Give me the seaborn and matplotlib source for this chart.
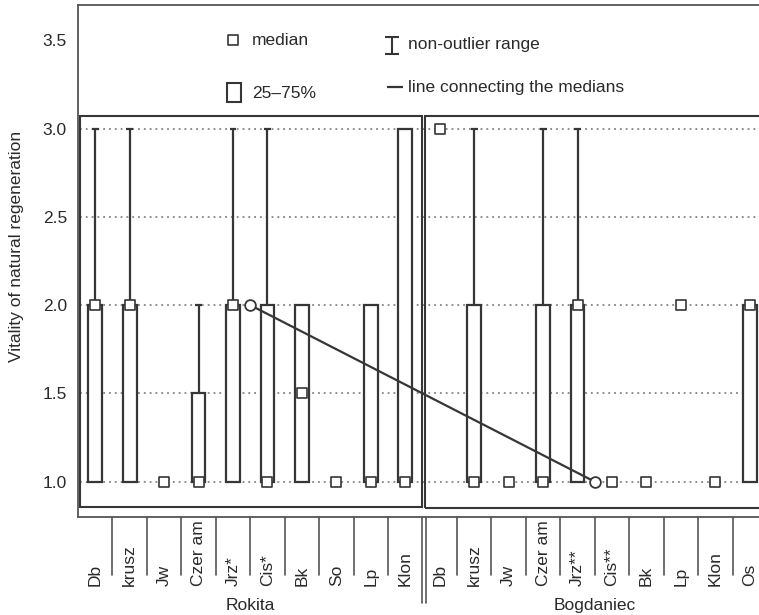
import matplotlib
matplotlib.use("Agg")
import matplotlib.pyplot as plt
from matplotlib.patches import Rectangle
import numpy as np
import pandas as pd
import seaborn as sns

# --- data -----------------------------------------------------------------
sites = ["Rokita"] * 10 + ["Bogdaniec"] * 10
species = ["Db", "krusz", "Jw", "Czer am", "Jrz*", "Cis*", "Bk", "So", "Lp", "Klon",
           "Db", "krusz", "Jw", "Czer am", "Jrz**", "Cis**", "Bk", "Lp", "Klon", "Os"]
medians = [2.0, 2.0, 1.0, 1.0, 2.0, 1.0, 1.5, 1.0, 1.0, 1.0,
           3.0, 1.0, 1.0, 1.0, 2.0, 1.0, 1.0, 2.0, 1.0, 2.0]
q25 = [1.0, 1.0, 1.0, 1.0, 1.0, 1.0, 1.0, 1.0, 1.0, 1.0,
       3.0, 1.0, 1.0, 1.0, 1.0, 1.0, 1.0, 2.0, 1.0, 1.0]
q75 = [2.0, 2.0, 1.0, 1.5, 2.0, 2.0, 2.0, 1.0, 2.0, 3.0,
       3.0, 2.0, 1.0, 2.0, 2.0, 1.0, 1.0, 2.0, 1.0, 2.0]
range_max = [3.0, 3.0, 1.0, 2.0, 3.0, 3.0, 2.0, 1.0, 2.0, 3.0,
             3.0, 3.0, 1.0, 3.0, 3.0, 1.0, 1.0, 2.0, 1.0, 2.0]
site_names = ["Rokita", "Bogdaniec"]
site_medians = [2.0, 1.0]
y_ticks = [1.0, 1.5, 2.0, 2.5, 3.0, 3.5]

df = pd.DataFrame({"site": sites, "species": species, "median": medians,
                   "q25": q25, "q75": q75, "max": range_max})
df["pos"] = np.arange(len(df))

# each site's median sits in the middle of its block of species
site_pos = [df.loc[df.site == s, "pos"].mean() for s in site_names]
site_df = pd.DataFrame({"pos": site_pos, "median": site_medians})

# --- style ----------------------------------------------------------------
sns.set_theme(style="white")
plt.rcParams["font.family"] = ["Liberation Sans", "DejaVu Sans"]
plt.rcParams["font.size"] = 12.5

INK = "#363636"
TXT = "#2a2a2a"

W, H = 759, 615
fig = plt.figure(figsize=(W / 100, H / 100), dpi=100)
ax = fig.add_axes([78 / W, (H - 517) / H, (767 - 78) / W, (517 - 5) / H])
ax.set_xlim(-0.5, 19.5)
ax.set_ylim(0.80, 3.70)

# dotted reference lines
ax.hlines([1.0, 1.5, 2.0, 2.5, 3.0], -0.45, 19.6, colors="#707070",
          linestyles=(0, (1.2, 2.6)), linewidth=1.1, zorder=1)

# site frames
ax.add_patch(Rectangle((-0.43, 0.858), 9.91, 2.216, fill=False,
                       edgecolor=INK, linewidth=1.5, zorder=2))
ax.add_patch(Rectangle((9.57, 0.853), 11.0, 2.216, fill=False,
                       edgecolor=INK, linewidth=1.5, zorder=2, clip_on=False))

# upper non-outlier range (whisker + cap)
wh = df[df["max"] > df["q75"]]
ax.vlines(wh["pos"], wh["q75"], wh["max"], colors=INK, linewidth=1.6, zorder=3)
ax.hlines(wh["max"], wh["pos"] - 0.1, wh["pos"] + 0.1, colors=INK,
          linewidth=1.6, zorder=3)

# 25-75% boxes
bx = df[df["q75"] > df["q25"]]
ax.bar(bx["pos"], bx["q75"] - bx["q25"], bottom=bx["q25"], width=0.4,
       color="white", edgecolor=INK, linewidth=1.6, zorder=3)

# line connecting site medians
sns.lineplot(data=site_df, x="pos", y="median", ax=ax, color=INK,
             linewidth=1.6, zorder=5, legend=False)
sns.scatterplot(data=site_df, x="pos", y="median", ax=ax, marker="o", s=60,
                color="white", edgecolor=INK, linewidth=1.3, zorder=6,
                legend=False)

# medians
sns.scatterplot(data=df, x="pos", y="median", ax=ax, marker="s", s=48,
                color="white", edgecolor=INK, linewidth=1.2, zorder=6,
                legend=False)

# --- key ------------------------------------------------------------------
ax.scatter([4.0], [3.5], marker="s", s=52, color="white", edgecolor=INK,
           linewidth=1.2, zorder=6)
ax.text(4.55, 3.5, "median", va="center", ha="left", color=TXT)
ax.add_patch(Rectangle((3.83, 3.153), 0.40, 0.107, fill=False,
                       edgecolor=INK, linewidth=1.5))
ax.text(4.55, 3.198, "25\u201375%", va="center", ha="left", color=TXT)
ax.vlines(8.61, 3.42, 3.52, colors=INK, linewidth=1.5)
ax.hlines([3.42, 3.52], 8.41, 8.81, colors=INK, linewidth=1.5)
ax.text(9.07, 3.476, "non-outlier range", va="center", ha="left", color=TXT)
ax.hlines(3.238, 8.46, 8.93, colors=INK, linewidth=1.6)
ax.text(9.07, 3.233, "line connecting the medians", va="center", ha="left",
        color=TXT)

# --- axes -----------------------------------------------------------------
ax.set_yticks(y_ticks)
ax.set_yticklabels([f"{v:.1f}" for v in y_ticks], color=TXT, fontsize=12.5)
ax.tick_params(axis="y", length=0, pad=8)
ax.set_xticks([])
ax.set_xlabel("")
ax.set_ylabel("")
for side in ["left", "top", "bottom"]:
    ax.spines[side].set_color("#555555")
    ax.spines[side].set_linewidth(1.3)
ax.spines["right"].set_visible(False)

fig.text(17 / W, 1 - 246 / H, "Vitality of natural regeneration",
         rotation=90, ha="center", va="center", color=TXT, fontsize=12.5)

# category separators under the axis
xt = ax.get_xaxis_transform()
for p in df["pos"][:-1]:
    b = p + 0.5
    if p == 9:
        for xx in (9.48, 9.61):
            ax.plot([xx, xx], [0, -0.168], transform=xt, color="#555555",
                    linewidth=1.2, clip_on=False)
    else:
        ax.plot([b, b], [0, -0.113], transform=xt, color="#555555",
                linewidth=1.2, clip_on=False)

for p, name in zip(df["pos"], df["species"]):
    ax.text(p, -0.135, name, transform=xt, rotation=90, ha="center",
            va="bottom", color=TXT, fontsize=12.5)

for p, name in zip(site_pos, site_names):
    ax.text(p, -0.182, name, transform=xt, ha="center", va="baseline",
            color=TXT, fontsize=12.5)

fig.savefig("out.png", dpi=100, facecolor="white")
